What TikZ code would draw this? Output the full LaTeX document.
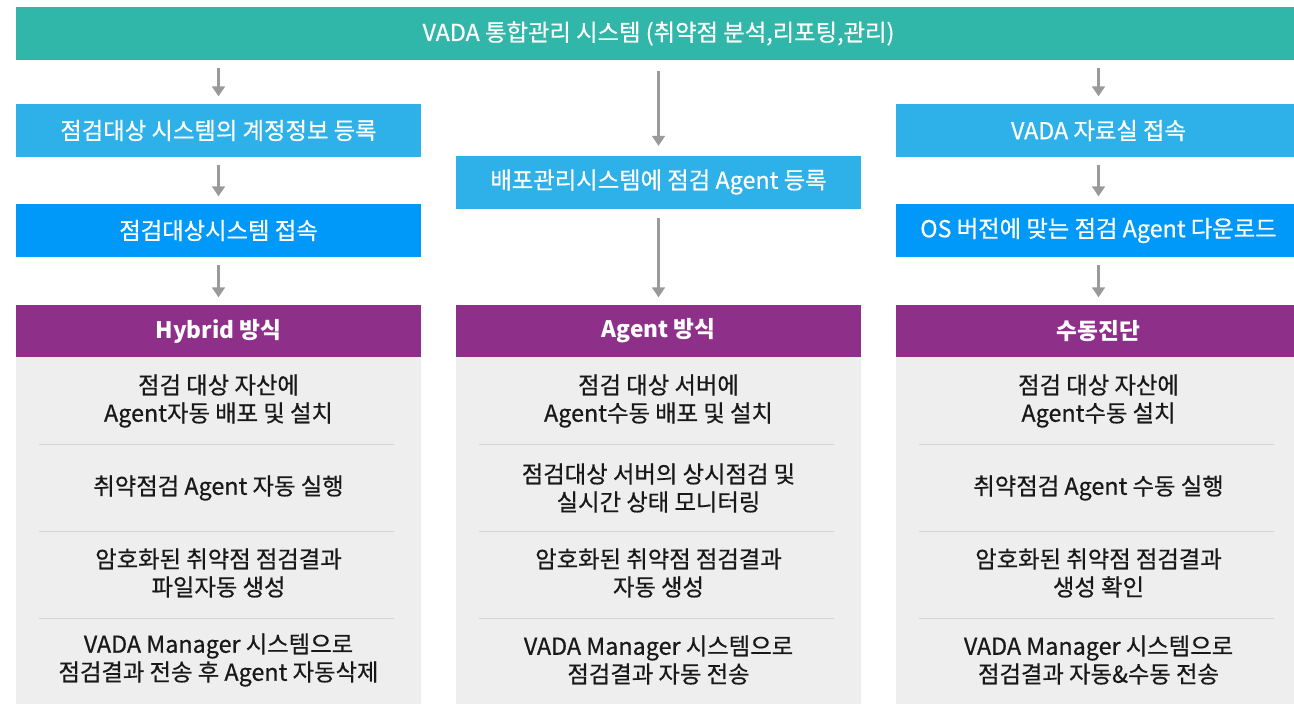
\documentclass[tikz,border=0pt]{standalone}
\usepackage{fontspec}
\setmainfont{Noto Sans CJK KR}
\newfontfamily\medfont[FakeBold=0.6]{Noto Sans CJK KR}
\usepackage{xcolor}
\usepackage{tikz}
\usetikzlibrary{arrows.meta}
\usetikzlibrary{positioning}
\definecolor{vteal}{HTML}{30B7A9}
\definecolor{vsky}{HTML}{2EB1E8}
\definecolor{vblue}{HTML}{0099FA}
\definecolor{vpurple}{HTML}{8E2F8A}
\definecolor{vpanel}{HTML}{EEEEEE}
\definecolor{vrule}{HTML}{D4D4D4}
\definecolor{varrow}{HTML}{9A9A9A}
\tikzset{
    topbar/.style = {rectangle, fill=vteal, text=white, inner sep=0pt, minimum width=963.75pt, minimum height=39.75pt, font=\medfont\fontsize{17.5}{21}\selectfont},
    stepsky/.style = {rectangle, fill=vsky, text=white, inner sep=0pt, minimum width=303.75pt, minimum height=39.75pt, font=\medfont\fontsize{17.5}{21}\selectfont},
    stepblue/.style = {rectangle, fill=vblue, text=white, inner sep=0pt, minimum width=303.75pt, minimum height=39.75pt, font=\medfont\fontsize{17.5}{21}\selectfont},
    headbox/.style = {rectangle, fill=vpurple, text=white, inner sep=0pt, minimum width=303.75pt, minimum height=39pt, font=\bfseries\fontsize{17}{21}\selectfont},
    panelbox/.style = {rectangle, fill=vpanel, inner sep=0pt, minimum width=303.75pt, minimum height=260.25pt},
    itemtext/.style = {align=center, text=black!90, inner sep=0pt, font=\medfont\fontsize{17.5}{21}\selectfont},
    sepline/.style = {draw=vrule, line width=0.75pt},
    arr/.style = {-{Triangle[width=9.5pt,length=7.5pt]}, draw=varrow, fill=varrow, line width=1.8pt, shorten <=5.5pt, shorten >=5.5pt},
}
\begin{document}
\begin{tikzpicture}[x=0.75pt, y=-0.75pt]
\useasboundingbox (0,0) rectangle (1294,704);
\node[topbar] at (658.5,33.5) (top) {VADA 통합관리 시스템 (취약점 분석,리포팅,관리)};
%
\node[stepsky] at (218.5,130.5) (l1) {점검대상 시스템의 계정정보 등록};
\node[stepblue] at (218.5,230.5) (l2) {점검대상시스템 접속};
\node[stepsky] at (658.5,182) (m1) {배포관리시스템에 점검 Agent 등록};
\node[stepsky] at (1098.5,130.5) (r1) {VADA 자료실 접속};
\node[stepblue] at (1098.5,230.5) (r2) {OS 버전에 맞는 점검 Agent 다운로드};
%
\node[headbox] at (218.5,331) (lh) {Hybrid 방식};
\node[headbox] at (658.5,331) (mh) {Agent 방식};
\node[headbox] at (1098.5,331) (rh) {수동진단};
%
\node[panelbox] at (218.5,530.5) (lp) {};
\node[panelbox] at (658.5,530.5) (mp) {};
\node[panelbox] at (1098.5,530.5) (rp) {};
\foreach \cx in {218.5,658.5,1098.5}
    \foreach \sy in {444,531,618}
        \draw[sepline] (\cx-179.5,\sy) -- (\cx+175.5,\sy);
%
\node[itemtext] at (218.5,401) (la) {점검 대상 자산에\\Agent자동 배포 및 설치};
\node[itemtext] at (218.5,488) (lb) {취약점검 Agent 자동 실행};
\node[itemtext] at (218.5,573) (lc) {암호화된 취약점 점검결과\\파일자동 생성};
\node[itemtext] at (218.5,660) (ld) {VADA Manager 시스템으로\\점검결과 전송 후 Agent 자동삭제};
%
\node[itemtext] at (658.5,401) (ma) {점검 대상 서버에\\Agent수동 배포 및 설치};
\node[itemtext] at (658.5,488) (mb) {점검대상 서버의 상시점검 및\\실시간 상태 모니터링};
\node[itemtext] at (658.5,573) (mc) {암호화된 취약점 점검결과\\자동 생성};
\node[itemtext] at (658.5,660) (md) {VADA Manager 시스템으로\\점검결과 자동 전송};
%
\node[itemtext] at (1098.5,401) (ra) {점검 대상 자산에\\Agent수동 설치};
\node[itemtext] at (1098.5,488) (rb) {취약점검 Agent 수동 실행};
\node[itemtext] at (1098.5,573) (rc) {암호화된 취약점 점검결과\\생성 확인};
\node[itemtext] at (1098.5,660) (rd) {VADA Manager 시스템으로\\점검결과 자동\&수동 전송};
%
\draw[arr] (top.south -| l1) -- (l1);
\draw[arr] (l1) -- (l2);
\draw[arr] (l2) -- (lh);
\draw[arr, shorten <=8pt, shorten >=7pt] (top.south -| m1) -- (m1);
\draw[arr, shorten <=7pt] (m1) -- (mh);
\draw[arr] (top.south -| r1) -- (r1);
\draw[arr] (r1) -- (r2);
\draw[arr] (r2) -- (rh);
\end{tikzpicture}
\end{document}
